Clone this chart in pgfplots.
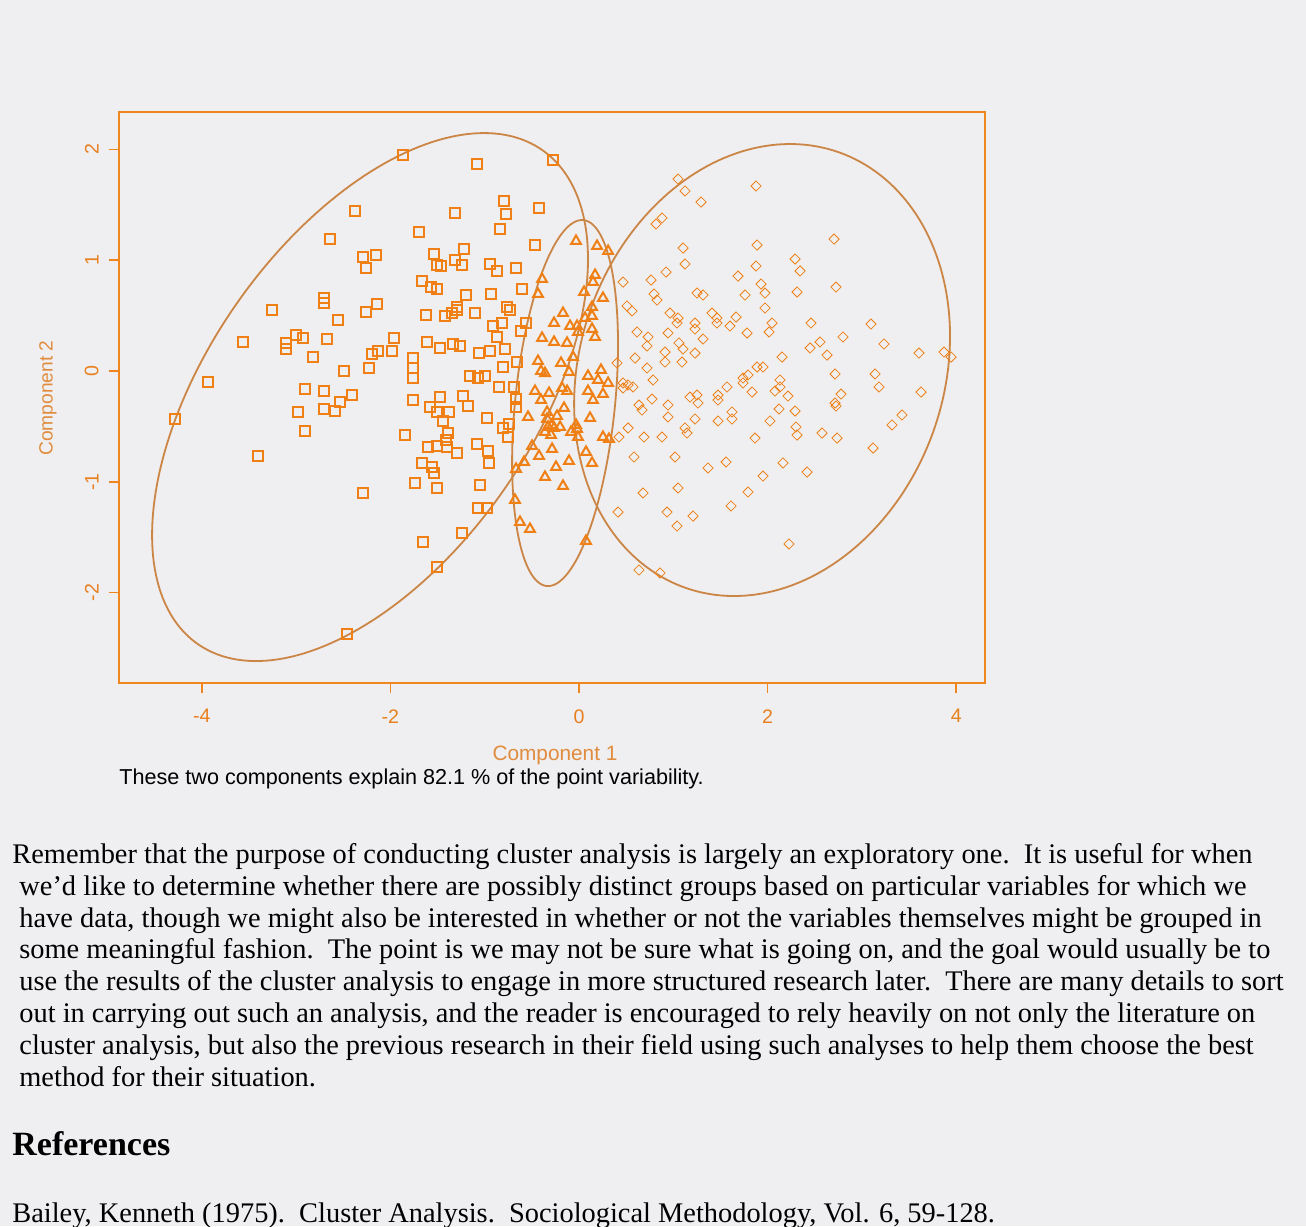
\documentclass[border=0pt]{standalone}
\usepackage{fontspec}
\setmainfont{Liberation Serif}
\newfontfamily\chartfont{Liberation Sans}
\usepackage{pgfplots}
\pgfplotsset{compat=1.18}
\definecolor{mk}{RGB}{240,128,20}
\definecolor{el}{RGB}{203,133,68}
\definecolor{fr}{RGB}{240,135,30}
\definecolor{tl}{RGB}{232,128,30}
\definecolor{lb}{RGB}{225,140,60}
\definecolor{bg}{RGB}{239,238,241}
\begin{document}
\begin{tikzpicture}
\path[use as bounding box, fill=bg] (0pt,0pt) rectangle (653pt,-613pt);
\begin{axis}[at={(59.5pt,-341.5pt)}, anchor=south west, scale only axis,
  width=433pt, height=285.5pt,
  xmin=-4.878, xmax=4.305, ymin=-2.816, ymax=2.338,
  axis line style={fr, line width=1pt},
  xtick={-4,-2,0,2,4}, xticklabels={-4,-2,0,2,4},
  ytick={-2,-1,0,1,2}, yticklabels={-2,-1,0,1,2},
  xtick pos=bottom, ytick pos=left, tick align=outside, major tick length=5pt,
  tick style={fr, line width=0.8pt},
  xticklabel style={font=\chartfont\fontsize{9.8}{11}\selectfont, text=tl, anchor=north, inner sep=0pt, yshift=-8pt},
  yticklabel style={font=\chartfont\fontsize{9.8}{11}\selectfont, text=tl, rotate=90, anchor=south, inner sep=0pt, yshift=5pt},
  mark options={solid, line width=1pt},
]
\addplot[el, line width=0.9pt, domain=0:360, samples=200] ({-2.216+1.970*cos(x)+1.209*sin(x)},{-0.235+2.383*sin(x)});
\addplot[el, line width=0.9pt, domain=0:360, samples=200] ({-0.148+0.532*cos(x)+0.180*sin(x)},{-0.289+1.652*sin(x)});
\addplot[el, line width=0.9pt, domain=0:360, samples=200] ({1.941+1.971*cos(x)+0.297*sin(x)},{0.009+2.040*sin(x)});
% cluster 1: squares
\addplot[only marks, mark=square, mark size=2.5pt, draw=mk] table {
x y
-1.866 1.949
-2.375 1.444
-2.640 1.191
-2.290 1.029
-2.153 1.047
-2.259 0.930
-2.704 0.659
-2.704 0.614
-1.082 1.868
-0.276 1.904
-0.795 1.534
-0.774 1.417
-0.424 1.471
-1.315 1.426
-1.697 1.254
-0.838 1.282
-0.467 1.137
-1.219 1.101
-1.538 1.056
-1.506 0.957
-1.463 0.948
-1.315 1.002
-1.241 0.957
-0.944 0.966
-0.870 0.903
-0.668 0.930
-1.665 0.812
-1.569 0.758
-1.506 0.740
-1.198 0.686
-0.933 0.695
-0.604 0.740
-3.255 0.551
-2.142 0.605
-2.259 0.532
-2.556 0.460
-3.563 0.262
-3.107 0.253
-3.107 0.199
-3.001 0.325
-2.927 0.298
-2.672 0.289
-1.962 0.298
-2.821 0.126
-2.195 0.153
-2.131 0.181
-1.983 0.181
-3.934 -0.099
-2.492 0.000
-2.227 0.027
-2.905 -0.162
-2.704 -0.181
-2.407 -0.217
-2.534 -0.280
-2.704 -0.343
-2.587 -0.361
-2.980 -0.370
-4.284 -0.433
-2.905 -0.542
-1.845 -0.578
-3.404 -0.767
-2.290 -1.101
-1.294 0.578
-1.294 0.551
-1.622 0.505
-1.421 0.496
-1.347 0.523
-1.103 0.523
-0.912 0.406
-0.817 0.433
-0.870 0.307
-0.763 0.578
-0.732 0.551
-0.562 0.433
-0.615 0.361
-1.612 0.262
-1.474 0.208
-1.336 0.244
-1.262 0.226
-1.060 0.162
-0.944 0.181
-0.785 0.199
-0.657 0.081
-1.760 0.117
-1.760 0.027
-1.760 -0.063
-1.156 -0.045
-1.071 -0.063
-0.997 -0.045
-0.806 0.036
-0.848 -0.144
-0.689 -0.144
-1.760 -0.262
-1.474 -0.235
-1.580 -0.325
-1.506 -0.370
-1.379 -0.370
-1.230 -0.226
-1.177 -0.316
-0.668 -0.253
-0.668 -0.325
-1.442 -0.451
-0.976 -0.424
-0.806 -0.514
-0.742 -0.478
-0.753 -0.596
-1.389 -0.560
-1.410 -0.623
-1.506 -0.677
-1.601 -0.686
-1.400 -0.686
-1.082 -0.659
-0.965 -0.722
-1.294 -0.740
-0.954 -0.830
-1.665 -0.830
-1.559 -0.866
-1.538 -0.921
-1.739 -1.011
-1.050 -1.029
-1.506 -1.056
-1.071 -1.236
-0.976 -1.236
-1.241 -1.462
-1.654 -1.543
-1.506 -1.769
-2.460 -2.374
};
% cluster 2: triangles
\addplot[only marks, mark=triangle, mark size=2.8pt, draw=mk] table {
x y
-0.032 1.173
0.191 1.128
0.308 1.083
-0.392 0.830
-0.435 0.695
0.170 0.866
0.148 0.803
0.053 0.713
0.254 0.659
-0.170 0.523
-0.265 0.433
-0.095 0.406
-0.021 0.406
0.064 0.478
0.138 0.578
0.138 0.496
0.138 0.379
0.170 0.307
-0.011 0.352
-0.392 0.298
-0.265 0.262
-0.127 0.253
-0.435 0.090
-0.191 0.072
-0.064 0.126
-0.403 0.000
-0.361 -0.020
-0.106 -0.009
0.095 -0.045
0.233 0.009
0.201 -0.081
0.308 -0.108
-0.467 -0.181
-0.318 -0.199
-0.180 -0.153
-0.127 -0.181
0.095 -0.181
0.254 -0.208
-0.403 -0.262
0.148 -0.262
-0.159 -0.334
-0.339 -0.370
-0.541 -0.415
-0.233 -0.406
0.117 -0.424
-0.339 -0.433
-0.286 -0.487
-0.265 -0.514
-0.329 -0.505
-0.201 -0.505
-0.032 -0.487
-0.361 -0.551
-0.297 -0.578
-0.085 -0.551
-0.021 -0.523
-0.011 -0.596
-0.498 -0.677
-0.286 -0.704
0.074 -0.731
-0.424 -0.767
-0.106 -0.812
0.138 -0.830
-0.583 -0.821
-0.668 -0.884
-0.244 -0.866
-0.361 -0.957
-0.170 -1.038
0.254 -0.596
0.318 -0.614
-0.679 -1.164
-0.626 -1.363
-0.520 -1.426
0.074 -1.534
};
% cluster 3: diamonds
\addplot[only marks, mark=square, mark size=1.8pt, mark options={rotate=45}, draw=mk] table {
x y
1.050 1.733
1.124 1.625
1.294 1.525
0.880 1.381
0.817 1.327
1.103 1.110
1.124 0.966
0.923 0.893
0.764 0.821
0.467 0.803
0.795 0.695
1.251 0.704
1.315 0.686
1.877 1.670
2.704 1.191
1.888 1.137
2.291 1.011
2.344 0.903
1.877 0.948
1.686 0.857
1.930 0.785
1.972 0.704
1.760 0.686
2.312 0.713
2.725 0.758
0.509 0.587
0.562 0.542
0.827 0.641
0.965 0.523
1.050 0.478
1.039 0.433
1.230 0.433
1.230 0.379
0.615 0.352
0.732 0.307
0.721 0.226
0.944 0.343
1.060 0.253
1.103 0.199
1.230 0.162
0.912 0.171
0.594 0.117
0.912 0.081
1.092 0.081
0.403 0.072
0.721 0.027
0.785 -0.081
0.467 -0.108
0.520 -0.126
0.573 -0.144
0.467 -0.153
0.774 -0.253
0.944 -0.307
0.636 -0.307
0.668 -0.352
1.177 -0.235
1.251 -0.217
1.262 -0.289
0.944 -0.415
1.230 -0.433
1.124 -0.514
1.145 -0.560
0.520 -0.514
0.424 -0.596
0.689 -0.596
0.880 -0.596
0.583 -0.776
1.018 -0.776
1.050 -1.056
0.679 -1.101
1.410 0.523
1.463 0.478
1.463 0.433
1.665 0.487
1.601 0.406
1.972 0.569
2.047 0.433
2.015 0.352
1.782 0.343
1.315 0.289
2.460 0.433
3.096 0.424
2.556 0.262
2.799 0.307
2.450 0.208
2.630 0.144
3.234 0.244
3.605 0.162
3.870 0.171
3.945 0.126
2.153 0.126
1.888 0.036
1.951 0.036
1.792 -0.036
1.739 -0.063
1.739 -0.108
2.131 -0.081
2.131 -0.144
2.078 -0.181
1.835 -0.190
1.569 -0.144
2.715 -0.027
3.139 -0.027
3.181 -0.144
3.627 -0.190
2.216 -0.226
1.474 -0.217
1.474 -0.262
2.778 -0.208
2.715 -0.289
2.725 -0.316
2.121 -0.343
2.291 -0.361
1.622 -0.370
1.622 -0.433
1.474 -0.451
2.025 -0.451
2.301 -0.505
2.312 -0.578
2.577 -0.560
2.736 -0.605
1.866 -0.605
3.425 -0.397
3.319 -0.487
3.118 -0.695
1.559 -0.821
2.163 -0.830
1.368 -0.875
1.951 -0.948
2.418 -0.912
1.792 -1.092
0.414 -1.273
0.933 -1.273
1.209 -1.309
1.039 -1.399
0.636 -1.796
0.859 -1.823
1.612 -1.218
2.227 -1.561
};
\end{axis}
% axis titles and note
\node[font=\chartfont\fontsize{10.4}{12}\selectfont, text=lb, inner sep=0pt] at (277.5pt,-377.5pt) {Component 1};
\node[font=\chartfont\fontsize{9.6}{11}\selectfont, text=lb, inner sep=0pt, rotate=90] at (24pt,-199pt) {Component 2};
\node[font=\chartfont\fontsize{10.8}{12}\selectfont, text=black, inner sep=0pt, anchor=west] at (59.5pt,-389.5pt) {These two components explain 82.1 \% of the point variability.};
% body text
\begin{scope}[every node/.style={anchor=base west, inner sep=0pt, font=\fontsize{14.2}{16}\selectfont}]
\node at (6pt,-431.5pt) {Remember that the purpose of conducting cluster analysis is largely an exploratory one.\ \ It is useful for when};
\node at (9.5pt,-447.5pt) {we’d like to determine whether there are possibly distinct groups based on particular variables for which we};
\node at (9.5pt,-463.5pt) {have data, though we might also be interested in whether or not the variables themselves might be grouped in};
\node at (9.5pt,-479pt) {some meaningful fashion.\ \ The point is we may not be sure what is going on, and the goal would usually be to};
\node at (9.5pt,-495pt) {use the results of the cluster analysis to engage in more structured research later.\ \ There are many details to sort};
\node at (9.5pt,-511pt) {out in carrying out such an analysis, and the reader is encouraged to rely heavily on not only the literature on};
\node at (9.5pt,-527pt) {cluster analysis, but also the previous research in their field using such analyses to help them choose the best};
\node at (9.5pt,-543pt) {method for their situation.};
\node[font=\fontsize{17}{20}\selectfont\bfseries] at (6pt,-577.5pt) {References};
\node at (6pt,-611pt) {Bailey, Kenneth (1975).\ \ Cluster Analysis.\ \ Sociological Methodology, Vol. 6, 59-128.};
\end{scope}
\end{tikzpicture}
\end{document}
